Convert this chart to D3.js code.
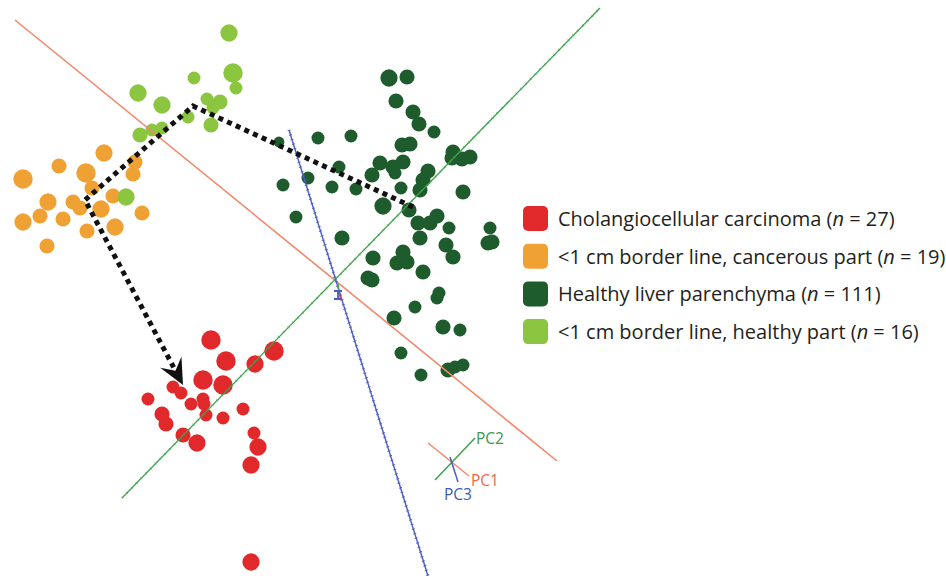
<!DOCTYPE html>
<html>
<head>
<meta charset="utf-8">
<script src="https://cdn.jsdelivr.net/npm/d3@7"></script>
<style>
  body { margin: 0; background: #fff; }
  svg { display: block; font-family: "Open Sans", "Noto Sans", sans-serif; }
</style>
</head>
<body>
<div id="chart"></div>
<script>
// projected PCA scores: [x, y, size]
var carcinoma = [
  [211,340,9],[226,361,9],[274,351,9],[255,364,8],[203,380,9],[223,385,9],
  [173,387,6],[181,393,6],[148,399,6],[191,404,6],[203,399,6],[204,404,6],
  [206,415,6],[162,414,7],[166,424,7],[223,418,6],[243,409,6],[183,435,7],
  [197,443,8],[254,433,6],[258,447,8],[251,465,8],[251,562,8]
];
var borderCancer = [
  [23,179,9],[59,166,7],[86,173,9],[104,153,8],[135,162,7],[133,174,7],
  [92,188,7],[48,202,8],[73,202,7],[80,208,7],[113,196,7],[101,209,8],
  [40,216,7],[23,222,8],[63,219,7],[142,213,7],[87,231,7],[115,227,8],[47,246,7]
];
var healthy = [
  [389,78,8],[407,77,7],[396,101,7],[413,112,7],[419,124,7],[434,132,6],
  [402,145,7],[410,144,7],[453,152,7],[452,158,7],[462,159,7],[470,157,7],
  [380,163,7],[393,167,7],[403,162,7],[395,173,6],[372,175,7],[428,171,7],
  [423,180,7],[420,190,7],[401,188,6],[463,192,7],[383,206,8],[409,210,7],
  [418,223,7],[430,223,7],[437,216,7],[420,238,7],[449,228,6],[490,228,6],
  [488,243,7],[492,242,7],[446,245,7],[453,257,7],[403,252,7],[397,263,7],
  [407,262,7],[373,258,7],[368,278,7],[372,280,7],[423,272,7],[439,293,6],
  [437,298,6],[415,307,6],[394,318,7],[443,327,7],[460,330,6],[401,353,6],
  [421,375,6],[448,370,7],[455,367,6],[463,365,6],
  [279,142,5],[283,185,6],[296,217,6],[308,178,6],[318,138,6],[332,187,6],
  [339,167,6],[342,238,7],[351,136,6],[356,189,6]
];
var borderHealthy = [
  [229,33,8],[233,73,9],[236,88,6],[194,78,6],[138,93,8],[162,105,8],
  [207,99,6],[220,102,7],[213,108,6],[188,117,6],[211,125,7],[140,135,7],
  [152,130,6],[162,128,6],[126,197,8]
];

var groups = ["Cholangiocellular carcinoma", "<1 cm border line, cancerous part",
  "Healthy liver parenchyma", "<1 cm border line, healthy part"];
var groupN = [27, 19, 111, 16];
var groupColors = ["#e1292b", "#f0a133", "#1e5c2d", "#8cc540"];

// principal component axes (endpoints in score space)
var pc1Axis = [[15,20],[557,461]];
var pc2Axis = [[122,498],[600,8]];
var pc3Axis = [[289,130],[428,576]];
// small orientation key
var keyPC1 = [[428,443],[469,476]];
var keyPC2 = [[435,480],[475,438]];
var keyPC3 = [[450,457],[458,482]];
// group-centroid trajectory
var trajectory = [[413,207],[193,106],[85,200],[183,385]];

var W = 946, H = 576;

var x = d3.scaleLinear().domain([0, 946]).range([0, W]);
var y = d3.scaleLinear().domain([0, 576]).range([0, H]);
var r = d3.scaleLinear().domain([0, 10]).range([0, 10.8]);

var svg = d3.select("#chart").append("svg")
  .attr("width", W).attr("height", H);

var line = d3.line().x(d => x(d[0])).y(d => y(d[1]));

// points
var sets = [healthy, borderCancer, borderHealthy, carcinoma];
var setColor = [groupColors[2], groupColors[1], groupColors[3], groupColors[0]];
sets.forEach(function (s, i) {
  svg.append("g").selectAll("circle")
    .data(s).enter().append("circle")
    .attr("cx", d => x(d[0]))
    .attr("cy", d => y(d[1]))
    .attr("r", d => r(d[2]))
    .attr("fill", setColor[i]);
});

// axes
svg.append("path").attr("d", line(pc1Axis))
  .attr("stroke", "#f3876a").attr("stroke-width", 1.6).attr("fill", "none");

svg.append("path").attr("d", line(pc2Axis))
  .attr("stroke", "#3fa24d").attr("stroke-width", 1.3).attr("fill", "none");
svg.append("path").attr("d", line(pc2Axis))
  .attr("stroke", "#3fa24d").attr("stroke-width", 3).attr("fill", "none")
  .attr("stroke-dasharray", "0.8,6").attr("opacity", 0.6);

svg.append("path").attr("d", line(pc3Axis))
  .attr("stroke", "#4b5cc2").attr("stroke-width", 1.4).attr("fill", "none");
svg.append("path").attr("d", line(pc3Axis))
  .attr("stroke", "#4b5cc2").attr("stroke-width", 3.2).attr("fill", "none")
  .attr("stroke-dasharray", "0.8,4");

// little origin glyph
var og = svg.append("g").attr("transform", "translate(" + x(338) + "," + y(290) + ")");
og.append("line").attr("x1", 0).attr("y1", -6).attr("x2", 1).attr("y2", 4)
  .attr("stroke", "#3fa24d").attr("stroke-width", 1.5);
og.append("path").attr("d", "M-4,1H4M-4,9H4M0,1V9")
  .attr("stroke", "#4b5cc2").attr("stroke-width", 1.8).attr("fill", "none");
og.append("line").attr("x1", 2).attr("y1", 3).attr("x2", 2).attr("y2", 10)
  .attr("stroke", "#e1292b").attr("stroke-width", 1.2);

// orientation key
svg.append("path").attr("d", line(keyPC1)).attr("stroke", "#f3876a").attr("stroke-width", 1.5).attr("fill", "none");
svg.append("path").attr("d", line(keyPC2)).attr("stroke", "#3fa24d").attr("stroke-width", 1.5).attr("fill", "none");
svg.append("path").attr("d", line(keyPC3)).attr("stroke", "#4b5cc2").attr("stroke-width", 1.5).attr("fill", "none");
svg.append("text").attr("x", x(keyPC2[1][0]) + 1).attr("y", y(keyPC2[1][1]) + 6)
  .text("PC2").style("fill", "#3a9a48").style("font-size", "15.5px");
svg.append("text").attr("x", x(keyPC1[1][0]) + 2).attr("y", y(keyPC1[1][1]) + 10)
  .text("PC1").style("fill", "#f0694a").style("font-size", "15.5px");
svg.append("text").attr("x", x(keyPC3[1][0]) - 14).attr("y", y(keyPC3[1][1]) + 18)
  .text("PC3").style("fill", "#4457b8").style("font-size", "15.5px");

// trajectory arrow
var tip = trajectory[trajectory.length - 1];
var prev = trajectory[trajectory.length - 2];
var ang = Math.atan2(y(tip[1]) - y(prev[1]), x(tip[0]) - x(prev[0]));
var headLen = 26;
var pathPts = trajectory.slice(0, -1).concat([[
  x.invert(x(tip[0]) - Math.cos(ang) * (headLen - 6)),
  y.invert(y(tip[1]) - Math.sin(ang) * (headLen - 6))
]]);
svg.append("path").attr("d", line(pathPts))
  .attr("stroke", "#111").attr("stroke-width", 5).attr("fill", "none")
  .attr("stroke-dasharray", "5,4.5");
svg.append("path")
  .attr("d", "M0,0L-" + headLen + ",-12L-16,0L-" + headLen + ",12Z")
  .attr("transform", "translate(" + x(tip[0]) + "," + y(tip[1]) + ") rotate(" + (ang * 180 / Math.PI) + ")")
  .attr("fill", "#111");

// legend
var legend = svg.selectAll(".legend")
  .data(groups).enter().append("g")
  .attr("class", "legend")
  .attr("transform", (d, i) => "translate(523," + (206 + i * 37.7) + ")");

legend.append("rect")
  .attr("width", 25).attr("height", 25)
  .attr("rx", 5).attr("ry", 5)
  .style("fill", (d, i) => groupColors[i]);

var lt = legend.append("text")
  .attr("x", 35).attr("y", 20)
  .style("fill", "#231f20")
  .style("font-size", "20px");
lt.append("tspan").text(d => d + " (");
lt.append("tspan").text("n").style("font-style", "italic");
lt.append("tspan").text((d, i) => " = " + groupN[i] + ")");
</script>
</body>
</html>
